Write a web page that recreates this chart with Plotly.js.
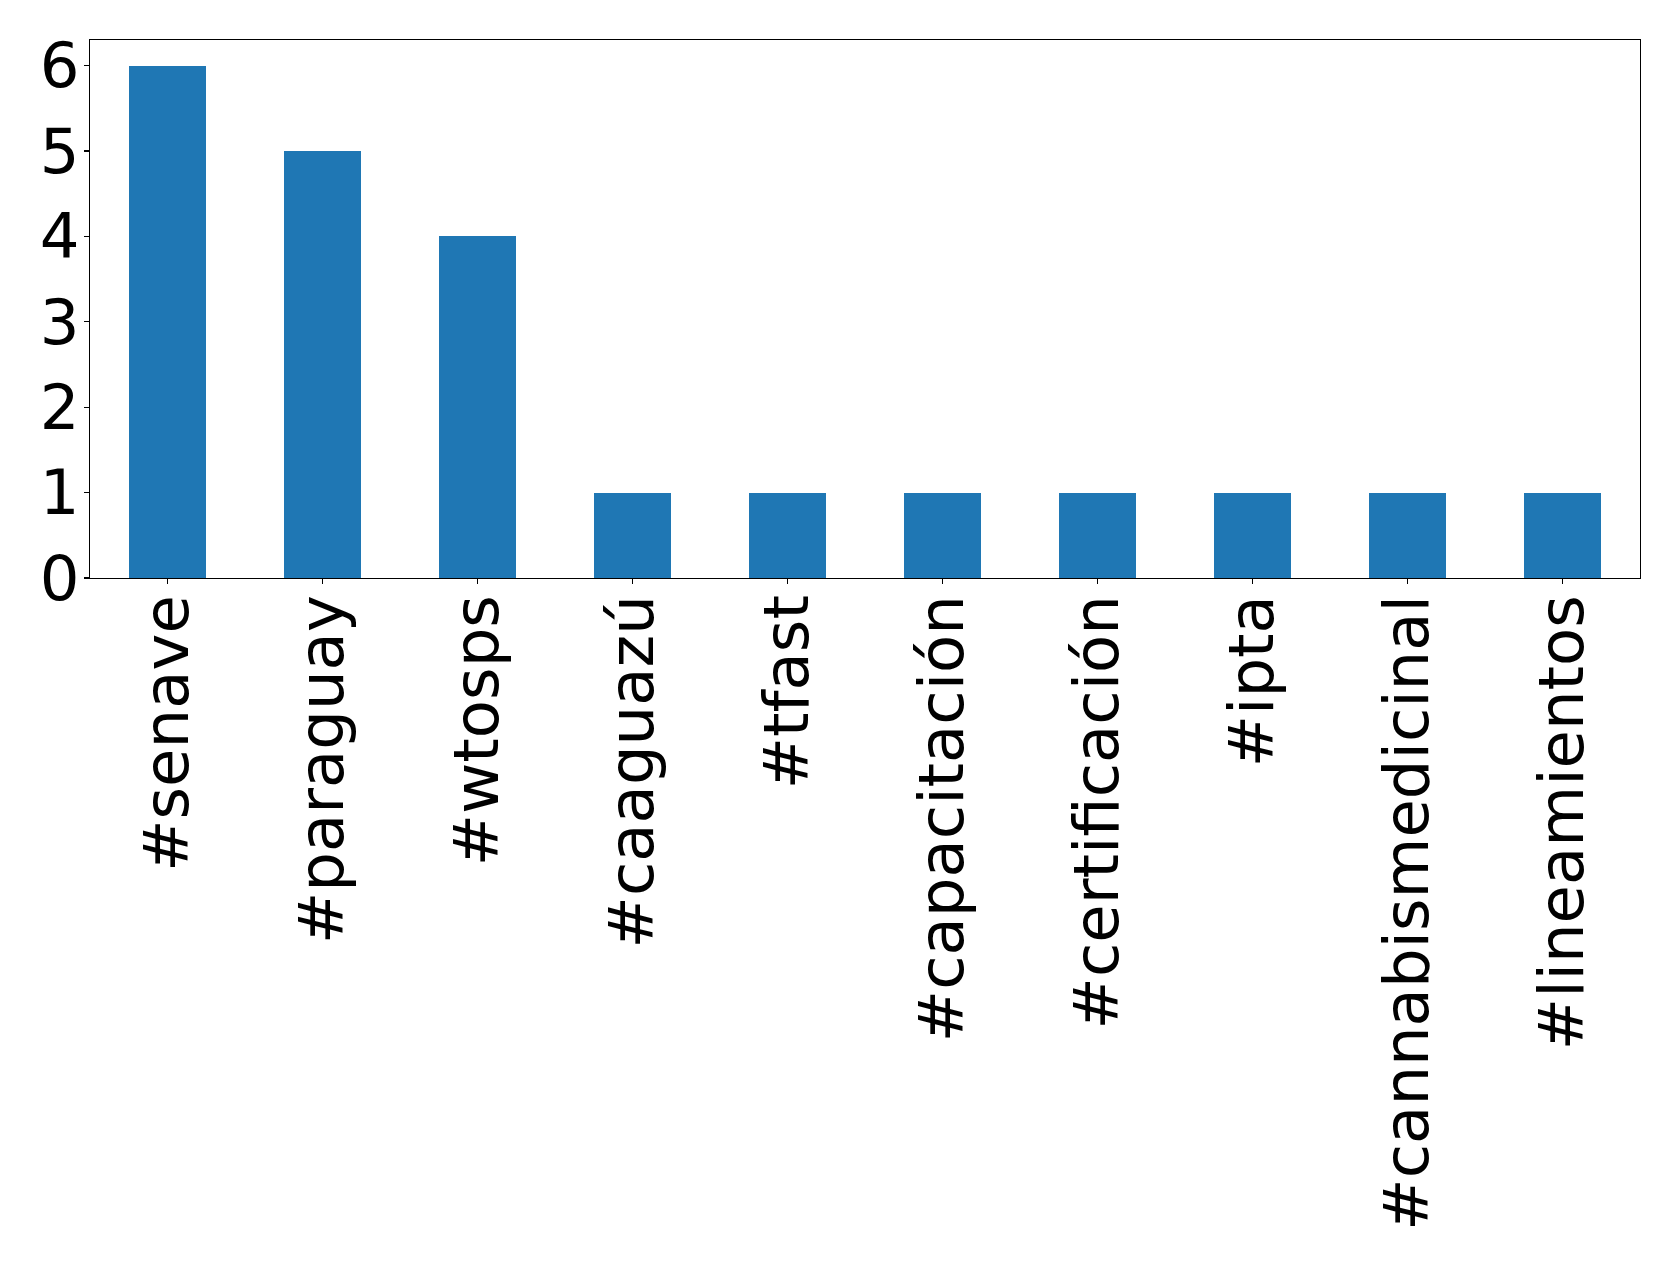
<!DOCTYPE html>
<html>
<head>
<meta charset="utf-8">
<script src="https://cdn.plot.ly/plotly-3.0.1.min.js"></script>
<style>html,body{margin:0;padding:0;background:#fff;}#chart{width:1679px;height:1263px;}</style>
</head>
<body>
<div id="chart"></div>
<script>
var categories = ["#senave", "#paraguay", "#wtosps", "#caaguazú", "#tfast", "#capacitación", "#certificación", "#ipta", "#cannabismedicinal", "#lineamientos"];
var counts = [6, 5, 4, 1, 1, 1, 1, 1, 1, 1];
var yTicks = [0, 1, 2, 3, 4, 5, 6];

var trace = {
  type: "bar",
  x: categories,
  y: counts,
  width: 0.5,
  marker: {color: "#1f77b4", line: {width: 0}},
  hoverinfo: "x+y"
};

var axisFont = {family: "DejaVu Sans", size: 62.5, color: "#000"};

var layout = {
  width: 1679,
  height: 1263,
  margin: {l: 90, r: 39, t: 40, b: 685, pad: 0},
  paper_bgcolor: "#fff",
  plot_bgcolor: "#fff",
  showlegend: false,
  bargap: 0,
  xaxis: {
    type: "category",
    range: [-0.5, 9.5],
    tickangle: -90,
    tickfont: axisFont,
    ticks: "outside",
    ticklen: 5,
    tickwidth: 1.1,
    tickcolor: "#000",
    ticklabelstandoff: -14,
    showline: true,
    linecolor: "#000",
    linewidth: 1.1,
    mirror: true,
    showgrid: false,
    zeroline: false,
    automargin: false
  },
  yaxis: {
    range: [0, 6.3],
    tickvals: yTicks,
    ticktext: yTicks.map(String),
    tickfont: axisFont,
    ticks: "outside",
    ticklen: 5,
    tickwidth: 1.1,
    tickcolor: "#000",
    ticklabelstandoff: -8,
    showline: true,
    linecolor: "#000",
    linewidth: 1.1,
    mirror: true,
    showgrid: false,
    zeroline: false,
    automargin: false
  }
};

Plotly.newPlot("chart", [trace], layout, {displayModeBar: false, staticPlot: true});
</script>
</body>
</html>
